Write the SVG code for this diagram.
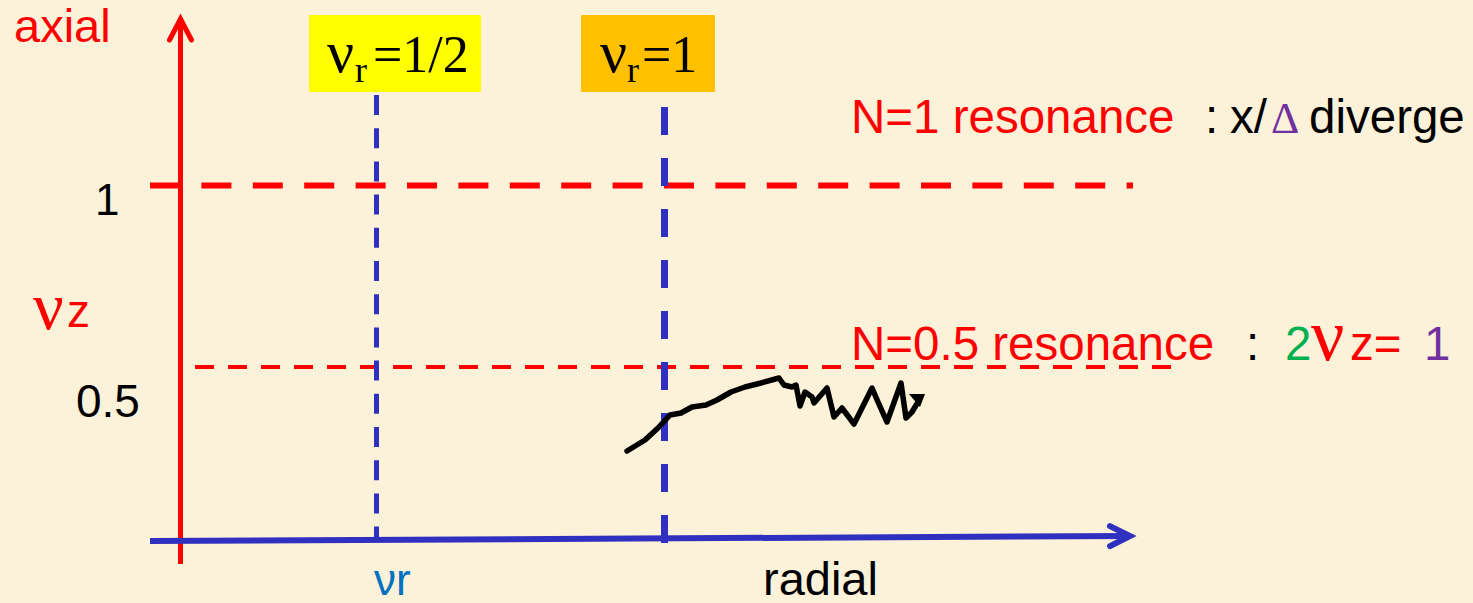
<svg xmlns="http://www.w3.org/2000/svg" width="1473" height="603" viewBox="0 0 1473 603">
<defs>
<style>
.sans{font-family:"Liberation Sans",Arial,sans-serif;}
.serif{font-family:"Liberation Serif","Times New Roman",serif;}
.red{fill:#FF0000;}
.blk{fill:#000000;}
</style>
<marker id="chevRed" markerUnits="userSpaceOnUse" markerWidth="40" markerHeight="40" viewBox="-30 -20 40 40" refX="0" refY="0" orient="auto" overflow="visible">
<path d="M-21,-11 L0,0 L-21,11" fill="none" stroke="#FF0000" stroke-width="5" stroke-linecap="round"/>
</marker>
<marker id="chevBlue" markerUnits="userSpaceOnUse" markerWidth="40" markerHeight="40" viewBox="-30 -20 40 40" refX="0" refY="0" orient="auto" overflow="visible">
<path d="M-20,-10 L0,0 L-20,10" fill="none" stroke="#3030C0" stroke-width="6" stroke-linecap="round"/>
</marker>
</defs>
<rect x="0" y="0" width="1473" height="603" fill="#FCF2DA"/>

<g id="connectors">
<line x1="150" y1="185.5" x2="1133" y2="185.5" stroke="#FF0000" stroke-width="6" stroke-dasharray="30 21.4"/>
<line x1="195" y1="367" x2="1179" y2="367" stroke="#FF0000" stroke-width="4" stroke-dasharray="19 14"/>
<line x1="376.5" y1="95" x2="376.5" y2="540" stroke="#3030C0" stroke-width="5" stroke-dasharray="20 13.2"/>
<line x1="664.5" y1="107" x2="664.5" y2="545" stroke="#3030C0" stroke-width="7" stroke-dasharray="28 23"/>
<line x1="180.5" y1="564" x2="180.5" y2="19" stroke="#FF0000" stroke-width="5" marker-end="url(#chevRed)"/>
<line x1="150" y1="541" x2="1130" y2="536" stroke="#3030C0" stroke-width="6" marker-end="url(#chevBlue)"/>
<polyline points="627,451 645,440 658,428 670,415 681,413 692,407 706,405 717,400 731,392 745,387 761,383 779,378 784,385 792,387 796,385 800,406 805,392 812,397 814,403 827,388 834,417 842,408 854,424 872,388 878,402 887,422 901,383 906,418 912,412 918,402" fill="none" stroke="#000000" stroke-width="5.5" stroke-linejoin="round" stroke-linecap="round"/>
<polygon points="925,394 909,394 920,407" fill="#000000"/>
</g>

<g id="axis-labels">
<text class="sans red" x="14" y="42" font-size="47">axial</text>
<text class="sans blk" x="763" y="595" font-size="47">radial</text>
<text class="sans" x="374" y="595" font-size="44" fill="#0070C0">νr</text>
<text x="33" y="329" fill="#FF0000"><tspan class="serif" font-size="68">ν</tspan><tspan class="sans" x="67" y="327" font-size="46">z</tspan></text>
<text class="sans blk" x="95" y="215" font-size="44">1</text>
<text class="sans blk" x="76" y="417" font-size="46">0.5</text>
</g>

<g id="node-nr-half">
<rect x="309" y="15" width="172" height="77" fill="#FFFF00"/>
<text class="serif blk"><tspan x="327" y="72" font-size="60">ν</tspan><tspan x="355" y="82" font-size="36">r</tspan><tspan x="373" y="72" font-size="52">=1/2</tspan></text>
</g>

<g id="node-nr-one">
<rect x="581" y="15" width="134" height="77" fill="#FFC000"/>
<text class="serif blk"><tspan x="600" y="72" font-size="60">ν</tspan><tspan x="627" y="82" font-size="36">r</tspan><tspan x="642" y="72" font-size="52">=1</tspan></text>
</g>

<g id="label-n1">
<text class="sans" y="133" font-size="47.5"><tspan x="851" fill="#FF0000">N=1 resonance</tspan><tspan x="1205" fill="#000000">:</tspan><tspan x="1230" fill="#000000">x/</tspan><tspan x="1271" fill="#7030A0" class="serif" font-size="44">Δ</tspan><tspan x="1309" fill="#000000">diverge</tspan></text>
</g>

<g id="label-n05">
<text class="sans" y="360" font-size="47.5"><tspan x="851" fill="#FF0000">N=0.5 resonance</tspan><tspan x="1246" fill="#000000">:</tspan><tspan x="1285" fill="#00B050">2</tspan><tspan x="1311" fill="#FF0000" class="serif" font-size="74">ν</tspan><tspan x="1350" fill="#FF0000">z=</tspan><tspan x="1424" fill="#7030A0">1</tspan></text>
</g>
</svg>
